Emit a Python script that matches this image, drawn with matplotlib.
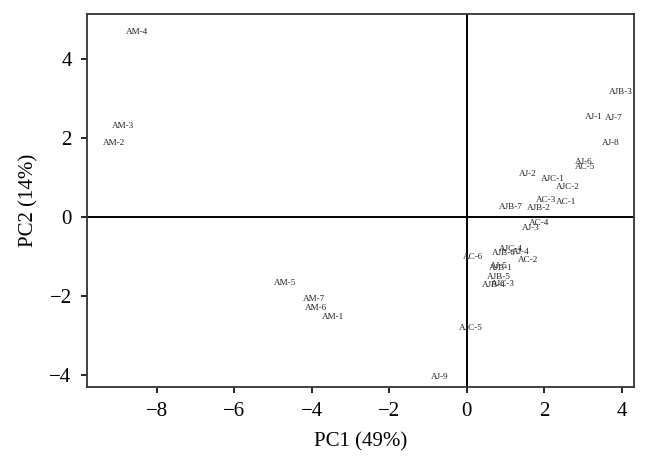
import matplotlib
matplotlib.use("Agg")
import matplotlib.pyplot as plt

plt.rcParams['font.family'] = ['Liberation Serif', 'DejaVu Serif']

# sample names and PCA scores
labels = ["AM-1", "AM-2", "AM-3", "AM-4", "AM-5", "AM-6", "AM-7",
          "AJ-1", "AJ-2", "AJ-3", "AJ-4", "AJ-5", "AJ-6", "AJ-7", "AJ-8", "AJ-9",
          "AJB-1", "AJB-2", "AJB-3", "AJB-4", "AJB-5", "AJB-6", "AJB-7",
          "AJC-1", "AJC-2", "AJC-3", "AJC-4", "AJC-5",
          "AC-1", "AC-2", "AC-3", "AC-4", "AC-5", "AC-6"]
pc1 = [-3.44, -9.10, -8.86, -8.50, -4.68, -3.88, -3.95,
       3.28, 1.58, 1.65, 1.40, 0.83, 3.02, 3.80, 3.72, -0.70,
       0.88, 1.86, 3.98, 0.70, 0.83, 0.96, 1.14,
       2.22, 2.61, 0.93, 1.14, 0.10,
       2.56, 1.58, 2.04, 1.86, 3.05, 0.16]
pc2 = [-2.54, 1.88, 2.31, 4.70, -1.68, -2.31, -2.08,
       2.54, 1.09, -0.28, -0.89, -1.24, 1.40, 2.51, 1.88, -4.06,
       -1.29, 0.23, 3.17, -1.73, -1.52, -0.91, 0.25,
       0.96, 0.76, -1.70, -0.81, -2.82,
       0.38, -1.09, 0.43, -0.15, 1.27, -1.02]

xticks = [-8, -6, -4, -2, 0, 2, 4]
yticks = [-4, -2, 0, 2, 4]

fig = plt.figure(figsize=(6.49, 4.70), dpi=100)
ax = fig.add_axes([0.134, 0.177, 0.843, 0.793])

for name, x, y in zip(labels, pc1, pc2):
    ax.text(x, y, name, fontsize=6.6, ha='center', va='center', color='#222222')

ax.axhline(0, color='black', lw=1.4)
ax.axvline(0, color='black', lw=1.4)

ax.set_xlim(-9.8, 4.32)
ax.set_ylim(-4.3, 5.15)
ax.set_xticks(xticks)
ax.set_yticks(yticks)
ax.set_xticklabels([str(t).replace('-', '\u2212') for t in xticks])
ax.set_yticklabels([str(t).replace('-', '\u2212') for t in yticks])
ax.tick_params(labelsize=15, length=4, width=1.2, direction='out', pad=7)
for s in ax.spines.values():
    s.set_linewidth(1.3)
    s.set_color('#333333')

ax.set_xlabel("PC1 (49%)", fontsize=15, labelpad=8)
ax.set_ylabel("PC2 (14%)", fontsize=15, labelpad=8)

plt.savefig("out.png", dpi=100)
